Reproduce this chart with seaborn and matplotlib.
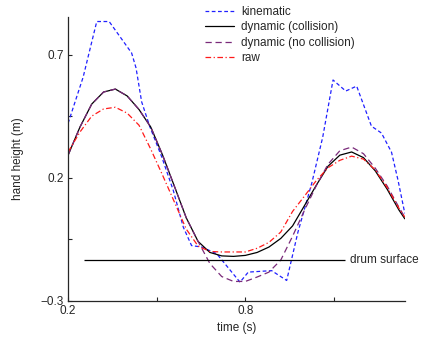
import numpy as np
import pandas as pd
import matplotlib
matplotlib.use("Agg")
import matplotlib.pyplot as plt
import seaborn as sns

# common time grid (s)
time = [0.20, 0.24, 0.28, 0.32, 0.36, 0.40, 0.44, 0.48, 0.52, 0.56,
        0.60, 0.64, 0.68, 0.72, 0.76, 0.80, 0.84, 0.88, 0.92, 0.96,
        1.00, 1.04, 1.08, 1.12, 1.16, 1.20, 1.24, 1.28, 1.32, 1.34]

dyn_collision = [0.292, 0.406, 0.500, 0.549, 0.561, 0.533, 0.478, 0.406, 0.292, 0.165,
                 0.037, -0.059, -0.104, -0.118, -0.120, -0.116, -0.104, -0.082, -0.047, 0.004,
                 0.086, 0.169, 0.247, 0.292, 0.305, 0.282, 0.228, 0.154, 0.069, 0.033]

dyn_no_collision = [0.292, 0.406, 0.500, 0.549, 0.561, 0.533, 0.478, 0.406, 0.292, 0.165,
                    0.037, -0.059, -0.149, -0.202, -0.222, -0.222, -0.204, -0.184, -0.135, -0.038,
                    0.067, 0.167, 0.255, 0.310, 0.325, 0.298, 0.239, 0.167, 0.080, 0.040]

raw = [0.305, 0.386, 0.451, 0.480, 0.487, 0.463, 0.414, 0.316, 0.210, 0.101,
       -0.009, -0.078, -0.100, -0.102, -0.102, -0.102, -0.087, -0.063, -0.021, 0.063,
       0.125, 0.188, 0.241, 0.271, 0.288, 0.276, 0.232, 0.161, 0.076, 0.040]

# kinematic series has its own (irregular) vertices
kin_time = [0.200, 0.251, 0.297, 0.339, 0.415, 0.430, 0.449, 0.477, 0.517, 0.556,
            0.590, 0.618, 0.652, 0.703, 0.782, 0.810, 0.889, 0.940, 0.978, 1.025,
            1.062, 1.097, 1.140, 1.177, 1.227, 1.261, 1.295, 1.317, 1.340]
kinematic = [0.422, 0.610, 0.836, 0.836, 0.708, 0.647, 0.509, 0.407, 0.285, 0.149,
             -0.001, -0.076, -0.082, -0.109, -0.225, -0.184, -0.178, -0.218, -0.022, 0.178,
             0.365, 0.598, 0.553, 0.573, 0.410, 0.382, 0.304, 0.190, 0.055]

drum_height = -0.133
drum_span = [0.254, 1.137]

sns.set_style("ticks")
plt.rcParams['font.family'] = ['Liberation Sans', 'DejaVu Sans']
plt.rcParams['font.size'] = 8.5

fig = plt.figure(figsize=(4.23, 3.37), dpi=100)
ax = fig.add_axes([0.161, 0.108, 0.796, 0.842])

df_k = pd.DataFrame({"t": kin_time, "h": kinematic})
df = pd.DataFrame({"t": time, "col": dyn_collision, "nocol": dyn_no_collision, "raw": raw})

sns.lineplot(data=df_k, x="t", y="h", ax=ax, color="#2020ff", lw=0.9,
             linestyle=(0, (3.0, 2.0)), label="kinematic", sort=False)
sns.lineplot(data=df, x="t", y="col", ax=ax, color="black", lw=0.9,
             label="dynamic (collision)", sort=False)
sns.lineplot(data=df, x="t", y="nocol", ax=ax, color="#7a2a7a", lw=0.9,
             linestyle=(0, (5.0, 3.0)), label="dynamic (no collision)", sort=False)
sns.lineplot(data=df, x="t", y="raw", ax=ax, color="#ff1a1a", lw=0.9,
             linestyle=(0, (4.5, 2.0, 1.0, 2.0)), label="raw", sort=False)

ax.hlines(drum_height, drum_span[0], drum_span[1], color="black", lw=0.9)
ax.text(drum_span[1] + 0.017, drum_height, "drum surface", va="center", ha="left", fontsize=8.5)

ax.set_xlim(0.2, 1.34)
ax.set_ylim(-0.3, 0.855)
ax.set_xticks([0.2, 0.8])
ax.set_xticklabels(["0.2", "0.8"])
ax.set_xticks([0.5, 1.1], minor=True)
ax.set_yticks([-0.3, 0.2, 0.7])
ax.set_yticklabels(["\u22120.3", "0.2", "0.7"])
ax.set_yticks([-0.05, 0.45], minor=True)
ax.tick_params(which="both", direction="in", length=3, width=0.8, labelsize=8.5, pad=3)
for s in ["top", "right"]:
    ax.spines[s].set_visible(False)
for s in ["left", "bottom"]:
    ax.spines[s].set_linewidth(0.9)

ax.set_xlabel("time (s)", fontsize=8.5, labelpad=4)
ax.set_ylabel("hand height (m)", fontsize=8.5, labelpad=12)

leg = ax.legend(loc="upper left", bbox_to_anchor=(0.478, 0.99), bbox_transform=fig.transFigure,
                frameon=False, fontsize=8.5, handlelength=2.5, handletextpad=0.6,
                labelspacing=0.3, borderpad=0.2, borderaxespad=0)

fig.savefig("out.png", dpi=100)
